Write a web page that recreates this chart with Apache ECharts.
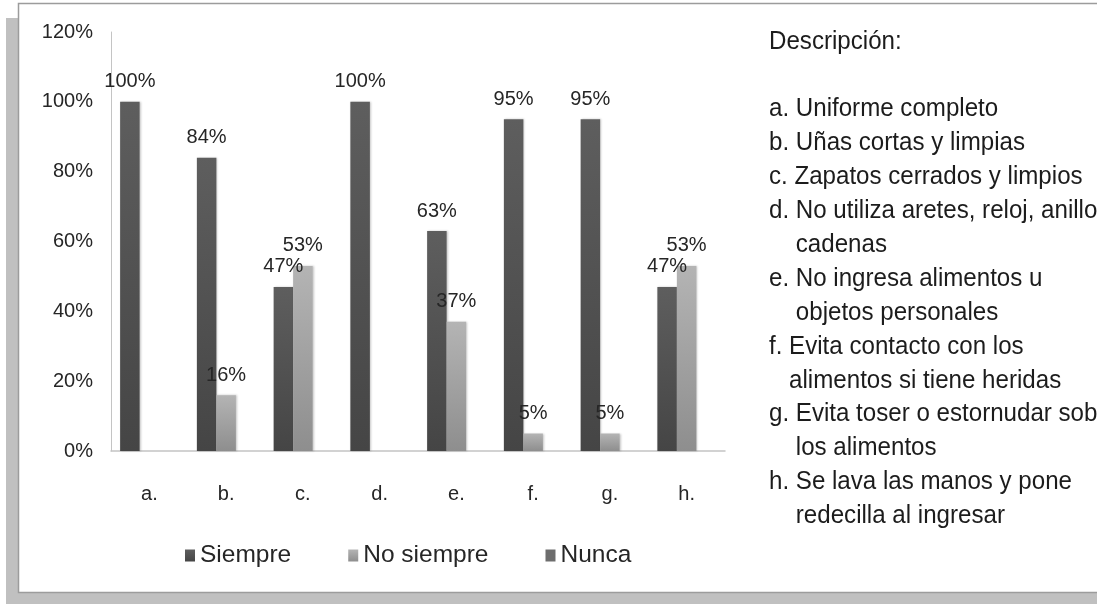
<!DOCTYPE html>
<html>
<head>
<meta charset="utf-8">
<script src="https://cdn.jsdelivr.net/npm/echarts@6/dist/echarts.min.js"></script>
<style>
  html, body { margin: 0; padding: 0; background: #ffffff; }
  #chart { width: 1097px; height: 604px; }
</style>
</head>
<body>
<div id="chart"></div>
<script>
// Categorías evaluadas y porcentajes por respuesta
const categorias = ['a.', 'b.', 'c.', 'd.', 'e.', 'f.', 'g.', 'h.'];
const siempre    = [100, 84, 47, 100, 63, 95, 95, 47];
const noSiempre  = [null, 16, 53, null, 37, 5, 5, 53];
const nunca      = [null, null, null, null, null, null, null, null];
const nombresSeries = ['Siempre', 'No siempre', 'Nunca'];

// Escala del eje de porcentajes
const ejeMin = 0;
const ejeMax = 120;
const ejeIntervalo = 20;

// Texto descriptivo de cada categoría (líneas de continuación en el mismo grupo)
const tituloDescripcion = 'Descripción:';
const descripcion = [
  ['a.', 'Uniforme completo'],
  ['b.', 'Uñas cortas y limpias'],
  ['c.', 'Zapatos cerrados y limpios'],
  ['d.', 'No utiliza aretes, reloj, anillos y', 'cadenas'],
  ['e.', 'No ingresa alimentos u', 'objetos personales'],
  ['f.', 'Evita contacto con los', 'alimentos si tiene heridas'],
  ['g.', 'Evita toser o estornudar sobre', 'los alimentos'],
  ['h.', 'Se lava las manos y pone', 'redecilla al ingresar']
];

const FONT = "'Liberation Sans', Arial, sans-serif";
const TEXT = '#262626';

// Panel de la descripción: letra alta y estrecha a la derecha del gráfico
const DESC_SIZE = 26.5;
const DESC_SCALE_X = 0.91;
const DESC_X = 769;
const DESC_TITLE_Y = 42;
const DESC_FIRST = 109;
const DESC_STEP = 33.9;
const DESC_FONT = DESC_SIZE + 'px ' + FONT;

const medidor = document.createElement('canvas').getContext('2d');
medidor.font = DESC_FONT;

function textoDesc(texto, x, y) {
  return {
    type: 'text', x: x, y: y, silent: true,
    style: { text: texto, font: DESC_FONT, fill: '#1c1c1c', verticalAlign: 'middle' }
  };
}

const descChildren = [textoDesc(tituloDescripcion, 0, DESC_TITLE_Y)];
let fila = 0;
descripcion.forEach(function (item) {
  const prefijo = item[0] + ' ';
  const sangria = medidor.measureText(prefijo).width;
  item.slice(1).forEach(function (linea, i) {
    const y = DESC_FIRST + fila * DESC_STEP;
    descChildren.push(i === 0 ? textoDesc(prefijo + linea, 0, y) : textoDesc(linea, sangria, y));
    fila++;
  });
});

function degradado(arriba, abajo) {
  return new echarts.graphic.LinearGradient(0, 0, 0, 1, [
    { offset: 0, color: arriba },
    { offset: 1, color: abajo }
  ]);
}

const etiqueta = {
  show: true,
  position: 'top',
  distance: 10,
  fontSize: 20,
  fontFamily: FONT,
  color: TEXT,
  formatter: function (p) { return p.value + '%'; }
};

const sombraBarra = {
  shadowColor: 'rgba(0,0,0,0.22)',
  shadowBlur: 2,
  shadowOffsetX: 1,
  shadowOffsetY: 0
};

const chart = echarts.init(document.getElementById('chart'), null, { renderer: 'canvas' });

chart.setOption({
  animation: false,
  backgroundColor: '#ffffff',
  textStyle: { fontFamily: FONT },
  graphic: [
    // sombra gris del marco
    { type: 'rect', z: -20, silent: true,
      shape: { x: 6, y: 18, width: 1091, height: 586 },
      style: { fill: '#c0c0c0' } },
    // panel blanco con borde
    { type: 'rect', z: -19, silent: true,
      shape: { x: 18.5, y: 3.5, width: 1100, height: 589 },
      style: { fill: '#ffffff', stroke: '#9c9c9c', lineWidth: 1.5 } },
    { type: 'group', x: DESC_X, y: 0, scaleX: DESC_SCALE_X, children: descChildren }
  ],
  legend: {
    data: nombresSeries,
    left: 185,
    top: 543,
    padding: 0,
    itemWidth: 10,
    itemHeight: 12,
    itemGap: 57,
    icon: 'rect',
    textStyle: { fontSize: 24.5, fontFamily: FONT, color: TEXT }
  },
  grid: { left: 111, top: 32, width: 614, height: 419, containLabel: false },
  xAxis: {
    type: 'category',
    data: categorias,
    axisLine: { lineStyle: { color: '#c4c4c4', width: 1.5 } },
    axisTick: { show: false },
    axisLabel: { margin: 33, fontSize: 20, fontFamily: FONT, color: TEXT }
  },
  yAxis: {
    type: 'value',
    min: ejeMin,
    max: ejeMax,
    interval: ejeIntervalo,
    axisLine: { show: true, lineStyle: { color: '#c4c4c4', width: 1 } },
    axisTick: { show: false },
    splitLine: { show: false },
    axisLabel: { margin: 18, fontSize: 20, fontFamily: FONT, color: TEXT,
                 padding: [3, 0, 0, 0], formatter: '{value}%' }
  },
  series: [
    {
      name: nombresSeries[0], type: 'bar', data: siempre,
      barWidth: 19.5, barGap: '0%',
      itemStyle: Object.assign({ color: degradado('#5e5e5e', '#454545') }, sombraBarra),
      label: etiqueta
    },
    {
      name: nombresSeries[1], type: 'bar', data: noSiempre,
      barWidth: 19.5, barGap: '0%',
      itemStyle: Object.assign({ color: degradado('#b4b4b4', '#8e8e8e') }, sombraBarra),
      label: etiqueta
    },
    {
      name: nombresSeries[2], type: 'bar', data: nunca,
      barWidth: 19.5, barGap: '0%',
      itemStyle: { color: '#6d6d6d' },
      label: etiqueta
    }
  ]
});
</script>
</body>
</html>
